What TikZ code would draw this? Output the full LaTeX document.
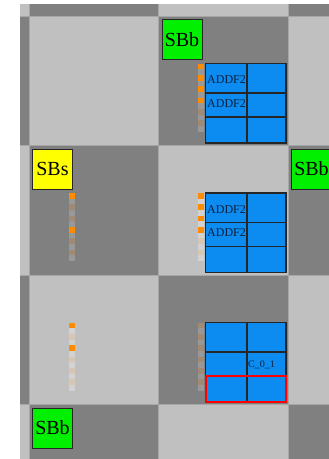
\documentclass[tikz,border=0pt]{standalone}
\usepackage{fontspec}
\setmainfont{Liberation Serif}
\definecolor{lg}{HTML}{C0C0C0}
\definecolor{dg}{HTML}{808080}
\definecolor{gl}{HTML}{A6A6A6}
\definecolor{sbgreen}{HTML}{00F000}
\definecolor{sbyellow}{HTML}{FFFF00}
\definecolor{blkfill}{HTML}{0C8CF0}
\definecolor{pinor}{HTML}{FF8C00}
\definecolor{dgs}{HTML}{989898}
\definecolor{dtan}{HTML}{A08A74}
\definecolor{lgs}{HTML}{D2D2D2}
\definecolor{ltan}{HTML}{D8C6B4}
\definecolor{txtc}{HTML}{0A2040}
\tikzset{
  sbbox/.style={draw=black!85, line width=1pt, minimum size=40pt, inner sep=0pt,
    anchor=north west, font=\fontsize{20}{20}\selectfont},
  blkline/.style={draw=black!85, line width=1.2pt},
  blklbl/.style={inner sep=0pt, anchor=base west, text=txtc, font=\fontsize{12}{12}\selectfont},
  cidlbl/.style={inner sep=0pt, anchor=base west, text=txtc, font=\fontsize{10}{10}\selectfont},
}
\newcommand\fpgablock{%
  \fill[blkfill] (47,47.5) rectangle (127.5,127);
  \draw[blkline] (88.5,47.5) -- (88.5,127);
  \draw[blkline] (47,77) -- (127.5,77);
  \draw[blkline] (47,101) -- (127.5,101);
  \draw[blkline] (47,47.5) rectangle (127.5,127);
}
\newcommand\pinstack[1]{%
  \foreach \cl [count=\i from 0] in {#1}
    \fill[\cl] (39.5,47.5+\i*5.667) rectangle +(6,5.667);
}
\begin{document}
\begin{tikzpicture}[x=1pt,y=-1pt]
\useasboundingbox (0,0) rectangle (329,459);
\fill[white] (0,0) rectangle (329,459);
\begin{scope}
\clip (20,4) rectangle (329,459);
\foreach \c in {-1,...,2}
  \foreach \r in {-1,...,3} {
    \pgfmathtruncatemacro\pp{mod(\c+\r+4,2)}
    \ifnum\pp=0 \def\cc{lg}\else\def\cc{dg}\fi
    \fill[\cc, draw=gl, line width=1pt] (29+\c*129.5,16+\r*129.5) rectangle +(129.5,129.5);
  }
% row 0, col 1
\begin{scope}[shift={(158.5,16)}]
  \node[sbbox, fill=sbgreen] (sb1) at (3,3) {SBb};
  \pinstack{pinor,dgs,pinor,dgs,pinor,dgs,pinor,dgs,dtan,dgs,dtan,dgs}
  \fpgablock
  \node[blklbl] (a1) at (48.5,67.5) {ADDF2};
  \node[blklbl] (a2) at (48.5,91) {ADDF2};
\end{scope}
% row 1, col 0
\begin{scope}[shift={(29,145.5)}]
  \node[sbbox, fill=sbyellow] (sbs) at (3,3) {SBs};
  \pinstack{pinor,dgs,dtan,dgs,dtan,dgs,pinor,dgs,dtan,dgs,dtan,dgs}
\end{scope}
% row 1, col 1
\begin{scope}[shift={(158.5,145.5)}]
  \pinstack{pinor,lgs,pinor,lgs,pinor,lgs,pinor,lgs,ltan,lgs,ltan,lgs}
  \fpgablock
  \node[blklbl] (a3) at (48.5,67.5) {ADDF2};
  \node[blklbl] (a4) at (48.5,91) {ADDF2};
\end{scope}
% row 1, col 2
\begin{scope}[shift={(288,145.5)}]
  \node[sbbox, fill=sbgreen] (sb2) at (3,3) {SBb};
\end{scope}
% row 2, col 0
\begin{scope}[shift={(29,275)}]
  \pinstack{pinor,lgs,ltan,lgs,pinor,lgs,ltan,lgs,ltan,lgs,ltan,lgs}
\end{scope}
% row 2, col 1
\begin{scope}[shift={(158.5,275)}]
  \pinstack{dtan,dgs,dtan,dgs,dtan,dgs,dtan,dgs,dtan,dgs,dtan,dgs}
  \fpgablock
  \node[cidlbl] (c01) at (89.5,92) {C\_0\_1};
  \draw[red, line width=2pt] (47.5,101) rectangle (127,126.5);
\end{scope}
% row 3, col 0
\begin{scope}[shift={(29,404.5)}]
  \node[sbbox, fill=sbgreen] (sb3) at (3,3) {SBb};
\end{scope}
\end{scope}
\end{tikzpicture}
\end{document}
